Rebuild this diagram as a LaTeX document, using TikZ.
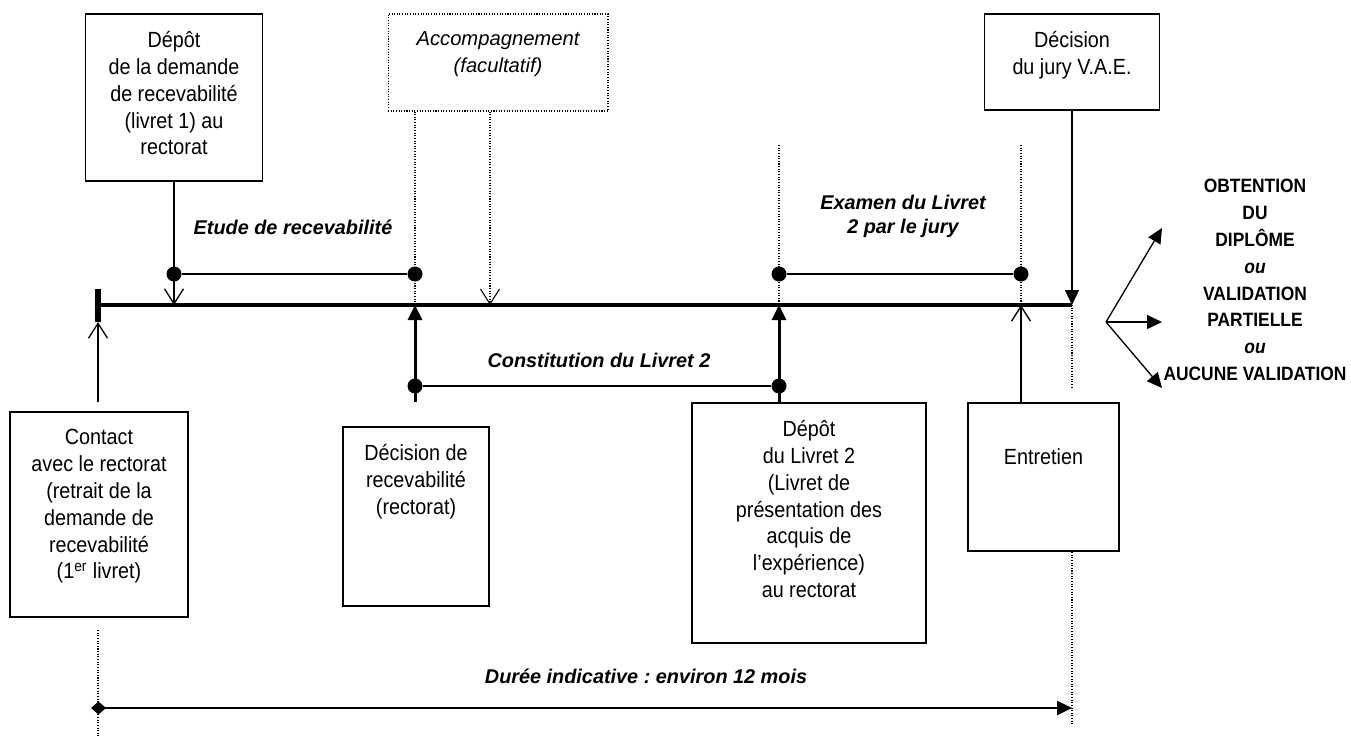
\documentclass[tikz,border=0pt]{standalone}
\usepackage{fontspec}
\setmainfont{Liberation Sans}
\newfontfamily\narrow{Liberation Sans}[FakeStretch=0.9]
\usepackage{tikz}
\usetikzlibrary{arrows.meta}
\usetikzlibrary{positioning}
\frenchspacing

\begin{document}
\begin{tikzpicture}[x=0.02cm,y=-0.02cm,
		boite/.style={draw,line width=0.75pt,inner sep=0pt},
		texte/.style={inner sep=0pt,align=center,font=\narrow\fontsize{12.5}{15.3}\selectfont,execute at begin node=\strut},
		titre/.style={inner sep=0pt,align=center,font=\bfseries\itshape\fontsize{11.3}{13.6}\selectfont},
		fin/.style={line width=0.75pt},
		epais/.style={line width=1.7pt},
		pointille/.style={line width=0.6pt,dash pattern=on 0.6pt off 0.9pt},
		point/.style={circle,fill,inner sep=0pt,minimum size=0.3cm},
		ouvert/.style={-{Straight Barb[length=0.3cm,width=0.38cm]}},
		plein/.style={-{Triangle[length=0.3cm,width=0.28cm]}}]
		\useasboundingbox (0,0) rectangle (1351,738);

		% axe du temps
		\coordinate (a) at (98,305);
		\coordinate (ah) at (98,289);
		\coordinate (ab) at (98,322);
		\coordinate (t1) at (174,305);
		\coordinate (t2) at (415,305);
		\coordinate (t3) at (490,305);
		\coordinate (t4) at (779,305);
		\coordinate (t5) at (1021,305);
		\coordinate (f) at (1072,305);
		\draw[line width=2.8pt] (a) -- (f);
		\draw[line width=3.4pt] (ah) -- (ab);

		\node[boite,minimum width=3.54cm,minimum height=3.34cm] (depot1) at (174,97.5) {};
		\node[texte,below=0.35cm of depot1.north] {Dépôt\\de la demande\\de recevabilité\\(livret 1) au\\rectorat};
		\node[point] (e1) at (174,274) {};
		\node[point] (e2) at (415,274) {};
		\draw[fin,ouvert] (depot1) -- (t1);
		\draw[fin] (e1) -- (e2);
		\node[titre] (etude) at (293,227) {Etude de recevabilité};

		\node[boite,pointille,minimum width=4.4cm,minimum height=1.94cm] (accomp) at (498,62.5) {};
		\node[texte,font=\itshape\fontsize{11.5}{15.3}\selectfont,below=0.35cm of accomp.north] {Accompagnement\\(facultatif)};
		\draw[pointille] (accomp.south -| t2) -- (t2);
		\draw[pointille,ouvert] (accomp.south -| t3) -- (t3);

		\node[boite,minimum width=3.5cm,minimum height=1.92cm] (jury) at (1072,62) {};
		\node[texte,below=0.35cm of jury.north] {Décision\\du jury V.A.E.};
		\draw[fin,plein] (jury) -- (f);

		\coordinate (p4) at (779,145);
		\coordinate (p5) at (1021,145);
		\draw[pointille] (p4) -- (t4);
		\draw[pointille] (p5) -- (t5);
		\node[point] (e3) at (779,274) {};
		\node[point] (e4) at (1021,274) {};
		\draw[fin] (e3) -- (e4);
		\node[titre] (examen) at (903,216) {Examen du Livret\\2 par le jury};

		\node[boite,minimum width=3.56cm,minimum height=4.1cm] (contact) at (99,514.5) {};
		\node[texte,below=0.35cm of contact.north] {Contact\\avec le rectorat\\(retrait de la\\demande de\\recevabilité\\(1\textsuperscript{er} livret)};
		\coordinate (ca) at (98,402);
		\draw[fin,ouvert] (ca) -- (ab);
		\coordinate (r1) at (98,630);
		\coordinate (r2) at (98,738);
		\draw[pointille] (r1) -- (r2);

		\node[boite,minimum width=2.92cm,minimum height=3.58cm] (decision) at (416,516.5) {};
		\node[texte,below=0.35cm of decision.north] {Décision de\\recevabilité\\(rectorat)};
		\coordinate (d1) at (415,402);
		\draw[epais,plein] (d1) -- (t2);

		\node[boite,minimum width=4.68cm,minimum height=4.8cm] (depot2) at (809,523) {};
		\node[texte,below=0.35cm of depot2.north] {Dépôt\\du Livret 2\\(Livret de\\présentation des\\acquis de\\l’expérience)\\au rectorat};
		\draw[epais,plein] (depot2.north -| t4) -- (t4);
		\node[point] (c1) at (415,386) {};
		\node[point] (c2) at (779,386) {};
		\draw[fin] (c1) -- (c2);
		\node[titre] (constitution) at (599,360) {Constitution du Livret 2};

		\node[boite,minimum width=3.02cm,minimum height=2.96cm] (entretien) at (1043.5,477) {};
		\node[texte,below=0.86cm of entretien.north] {Entretien};
		\draw[fin,ouvert] (entretien.north -| t5) -- (t5);
		\coordinate (q1) at (1072,387);
		\coordinate (q2) at (1072,552);
		\coordinate (q3) at (1072,725);
		\draw[pointille] (f) -- (q1);
		\draw[pointille] (q2) -- (q3);

		% issues possibles
		\coordinate (b0) at (1106,322);
		\coordinate (b1) at (1162,228);
		\coordinate (b2) at (1162,322);
		\coordinate (b3) at (1162,388);
		\foreach \cible in {b1,b2,b3}
			\draw[fin,plein] (b0) -- (\cible);
		\node[font=\narrow\bfseries\fontsize{11}{15.3}\selectfont,align=center,inner sep=0pt] (resultat) at (1255,280) {OBTENTION\\DU\\DIPLÔME\\\textit{ou}\\VALIDATION\\PARTIELLE\\\textit{ou}\\AUCUNE VALIDATION};

		\coordinate (r3) at (91,708);
		\coordinate (r4) at (1072,708);
		\draw[line width=1.4pt,{Diamond[length=0.3cm,width=0.26cm]}-{Triangle[length=0.3cm,width=0.28cm]}] (r3) -- (r4);
		\node[titre] (duree) at (646,676) {Durée indicative : environ 12 mois};
	\end{tikzpicture}
\end{document}
